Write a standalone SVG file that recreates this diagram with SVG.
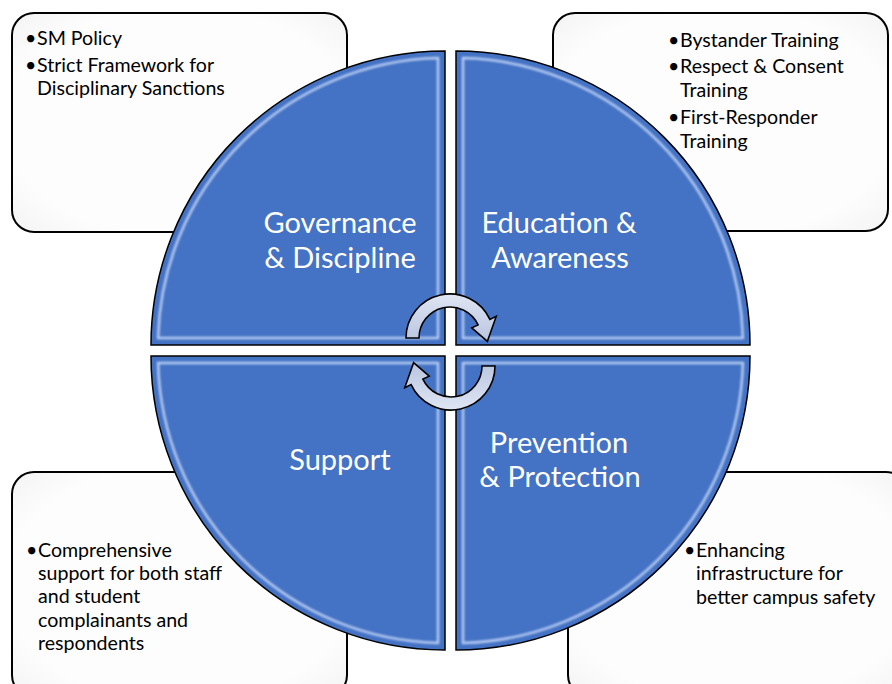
<svg xmlns="http://www.w3.org/2000/svg" width="892" height="684" viewBox="0 0 892 684">
<style>
.box{fill:url(#boxg);stroke:#000;stroke-width:2}
.q{fill:#4472C4;stroke:#000;stroke-width:1.5}
.hl{fill:none;stroke:#d4e3ff;stroke-width:2.5;opacity:0.8;filter:url(#blur)}
.lbl{font-family:Lato,"Liberation Sans",sans-serif;font-size:29px;fill:#fff;text-anchor:middle}
.bt{font-family:Lato,"Liberation Sans",sans-serif;font-size:19.6px;fill:#000}
.arr{fill:url(#arrg);stroke:#000;stroke-width:1.6}
</style>
<defs>
<radialGradient id="boxg" cx="0.5" cy="0.5" r="0.75">
<stop offset="0.7" stop-color="#fdfdfd"/>
<stop offset="1" stop-color="#f1f1f1"/>
</radialGradient>
<linearGradient id="arrg" x1="0" y1="0" x2="0" y2="1">
<stop offset="0" stop-color="#dfe5f3"/>
<stop offset="1" stop-color="#b9c5e0"/>
</linearGradient>
<filter id="blur" x="-5%" y="-5%" width="110%" height="110%"><feGaussianBlur stdDeviation="1.2"/></filter>
</defs>

<g id="box-governance">
<rect class="box" x="12" y="13" width="335" height="219" rx="22"/>
<text class="bt" x="25" y="45">•</text><text class="bt" x="37" y="45">SM Policy</text>
<text class="bt" x="25" y="72">•</text><text class="bt" x="37" y="72">Strict Framework for</text>
<text class="bt" x="37" y="95">Disciplinary Sanctions</text>
</g>
<g id="box-education">
<rect class="box" x="553" y="13" width="335" height="218" rx="22"/>
<text class="bt" x="668" y="47">•</text><text class="bt" x="680" y="47">Bystander Training</text>
<text class="bt" x="668" y="73">•</text><text class="bt" x="680" y="73">Respect &amp; Consent</text>
<text class="bt" x="680" y="97">Training</text>
<text class="bt" x="668" y="124">•</text><text class="bt" x="680" y="124">First-Responder</text>
<text class="bt" x="680" y="148">Training</text>
</g>
<g id="box-support">
<rect class="box" x="12" y="472" width="335" height="225" rx="22"/>
<text class="bt" x="26" y="557">•</text><text class="bt" x="38" y="557">Comprehensive</text>
<text class="bt" x="38" y="580">support for both staff</text>
<text class="bt" x="38" y="603">and student</text>
<text class="bt" x="38" y="627">complainants and</text>
<text class="bt" x="38" y="650">respondents</text>
</g>
<g id="box-prevention">
<rect class="box" x="568" y="472" width="340" height="225" rx="22"/>
<text class="bt" x="684" y="557">•</text><text class="bt" x="696" y="557">Enhancing</text>
<text class="bt" x="696" y="580">infrastructure for</text>
<text class="bt" x="696" y="604">better campus safety</text>
</g>

<g id="q-governance">
<path class="q" d="M445,345 L151,345 A294,294 0 0 1 445,51 Z"/>
<path class="hl" d="M438,338 L158.1,338 A287,287 0 0 1 438,58.1 Z"/>
<text class="lbl" x="340" y="233">Governance</text>
<text class="lbl" x="340" y="268">&amp; Discipline</text>
</g>
<g id="q-education">
<path class="q" d="M456,345 L456,51 A294,294 0 0 1 750,345 Z"/>
<path class="hl" d="M463,338 L463,58.1 A287,287 0 0 1 742.9,338 Z"/>
<text class="lbl" x="559" y="233">Education &amp;</text>
<text class="lbl" x="560" y="268">Awareness</text>
</g>
<g id="q-support">
<path class="q" d="M445,356 L445,650 A294,294 0 0 1 151,356 Z"/>
<path class="hl" d="M438,363 L438,642.9 A287,287 0 0 1 158.1,363 Z"/>
<text class="lbl" x="340" y="470">Support</text>
</g>
<g id="q-prevention">
<path class="q" d="M456,356 L750,356 A294,294 0 0 1 456,650 Z"/>
<path class="hl" d="M463,363 L742.9,363 A287,287 0 0 1 463,642.9 Z"/>
<text class="lbl" x="559" y="453">Prevention</text>
<text class="lbl" x="560" y="487">&amp; Protection</text>
</g>

<g id="connectors">
<path class="arr" d="M406,338 A44,44 0 0 1 489.9,319.4 L496.2,316.4 L487.4,341.3 L471.8,327.9 L478.1,324.9 A31,31 0 0 0 419,338 Z"/>
<path class="arr" transform="rotate(180 450.5 352)" d="M406,338 A44,44 0 0 1 489.9,319.4 L496.2,316.4 L487.4,341.3 L471.8,327.9 L478.1,324.9 A31,31 0 0 0 419,338 Z"/>
</g>
</svg>
